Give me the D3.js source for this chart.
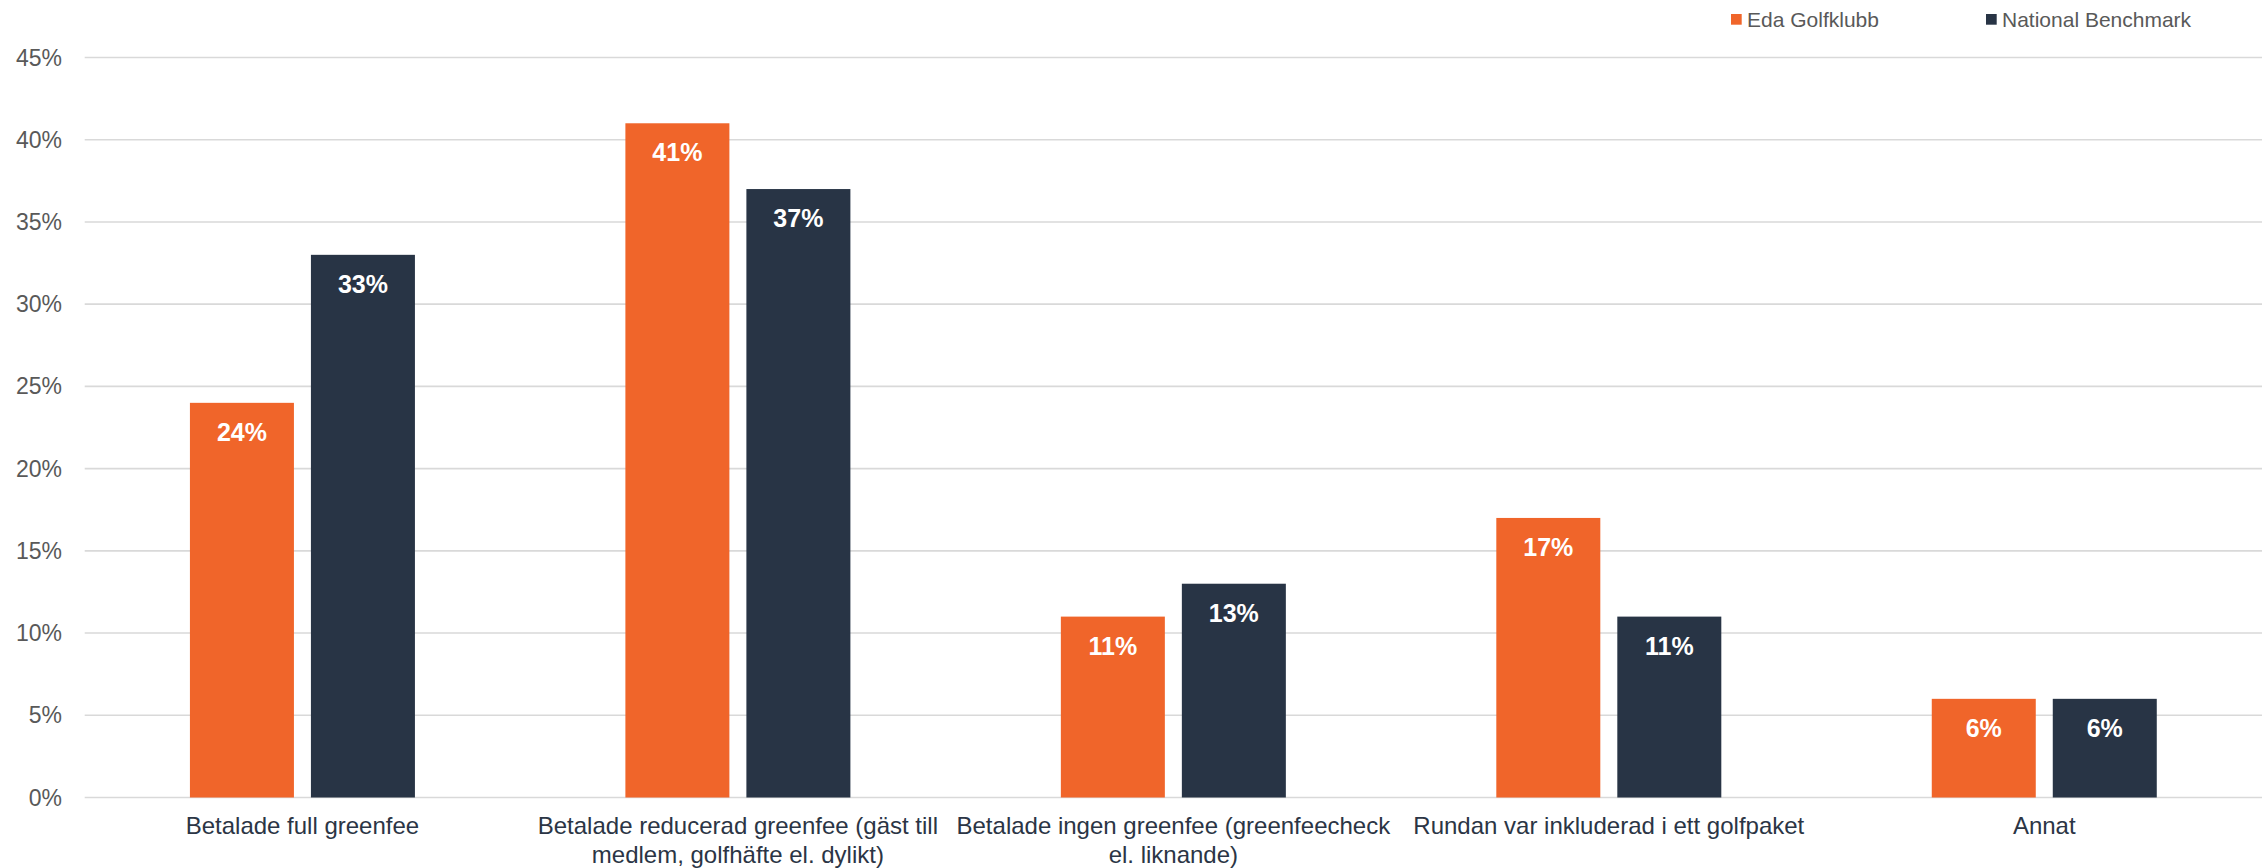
<!DOCTYPE html>
<html><head><meta charset="utf-8">
<script src="https://cdn.jsdelivr.net/npm/d3@7"></script>
<style>body{margin:0;background:#fff}svg{display:block;font-family:"Liberation Sans",Arial,sans-serif}</style>
</head><body>
<svg id="c" width="2264" height="868"></svg>
<script>
const categories = ["Betalade full greenfee","Betalade reducerad greenfee (gäst till medlem, golfhäfte el. dylikt)","Betalade ingen greenfee (greenfeecheck el. liknande)","Rundan var inkluderad i ett golfpaket","Annat"];
const categoryLines = [["Betalade full greenfee"],["Betalade reducerad greenfee (gäst till","medlem, golfhäfte el. dylikt)"],["Betalade ingen greenfee (greenfeecheck","el. liknande)"],["Rundan var inkluderad i ett golfpaket"],["Annat"]];
const seriesNames = ["Eda Golfklubb","National Benchmark"];
const edaValues = [24,41,11,17,6];
const nationalValues = [33,37,13,11,6];
const yTicks = [0,5,10,15,20,25,30,35,40,45];
const colors = ["#F0652A","#283445"];

(function(){
const svg = d3.select("#c");
const mLeft = 84.7, mRight = 2262, mTop = 57.5, mBottom = 797.5;
const x = d3.scaleBand().domain(categories).range([mLeft,mRight]);
const y = d3.scaleLinear().domain([0,45]).range([mBottom,mTop]);
const barW = 104, gap = 17;

svg.append("g").selectAll("line").data(yTicks).join("line")
  .attr("x1",mLeft).attr("x2",mRight)
  .attr("y1",d=>y(d)).attr("y2",d=>y(d))
  .attr("stroke","#d9d9d9").attr("stroke-width",1.6);

svg.append("g").selectAll("text").data(yTicks).join("text")
  .attr("x",62).attr("y",d=>y(d)+8)
  .attr("text-anchor","end").attr("font-size",23).attr("fill","#595959")
  .text(d=>d+"%");

const series = [edaValues, nationalValues];
series.forEach((vals,si)=>{
  const g = svg.append("g");
  const xpos = (c)=> x(c)+x.bandwidth()/2 + (si===0 ? -(gap/2+barW) : gap/2);
  g.selectAll("rect").data(categories).join("rect")
    .attr("x",(c)=>xpos(c)).attr("width",barW)
    .attr("y",(c,i)=>y(vals[i])).attr("height",(c,i)=>y(0)-y(vals[i]))
    .attr("fill",colors[si]);
  g.selectAll("text").data(categories).join("text")
    .attr("x",(c)=>xpos(c)+barW/2).attr("y",(c,i)=>y(vals[i])+38)
    .attr("text-anchor","middle").attr("font-size",25).attr("font-weight","bold").attr("fill","#fff")
    .text((c,i)=>vals[i]+"%");
});

const xl = svg.append("g").selectAll("text").data(categories).join("text")
  .attr("x",c=>x(c)+x.bandwidth()/2).attr("y",834)
  .attr("text-anchor","middle").attr("font-size",24).attr("fill","#2b3545");
xl.each(function(c,i){
  d3.select(this).selectAll("tspan").data(categoryLines[i]).join("tspan")
    .attr("x",x(c)+x.bandwidth()/2).attr("dy",(d,j)=>j===0?0:29).text(d=>d);
});

const legX = [1731,1986];
seriesNames.forEach((n,i)=>{
  svg.append("rect").attr("x",legX[i]).attr("y",14).attr("width",10.7).attr("height",10.7).attr("fill",colors[i]);
  svg.append("text").attr("x",legX[i]+16).attr("y",26.5).attr("font-size",21).attr("fill","#595959").text(n);
});
})();
</script>
</body></html>
